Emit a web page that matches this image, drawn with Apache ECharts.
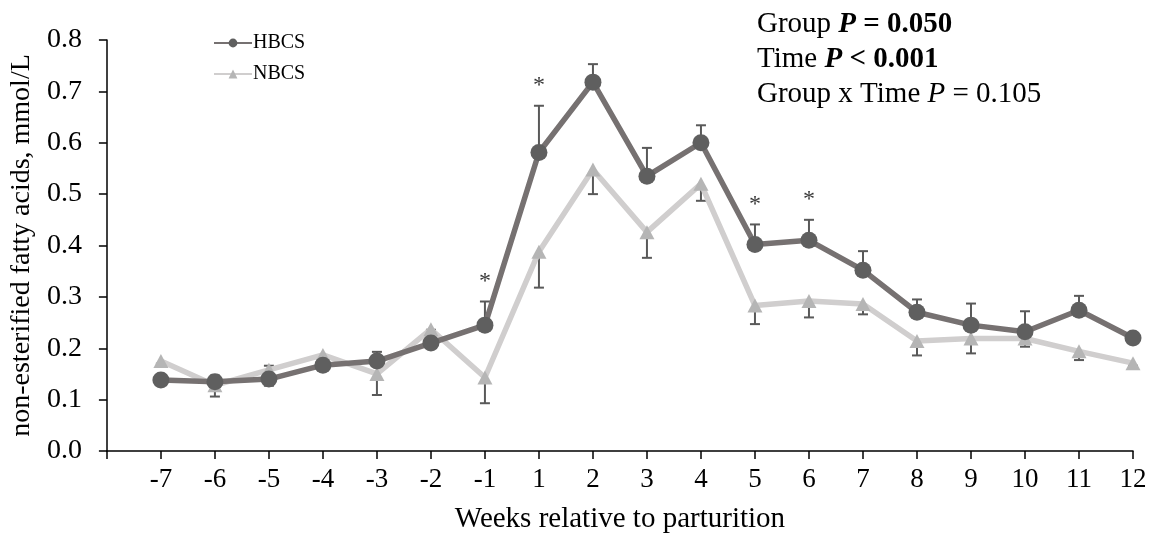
<!DOCTYPE html>
<html>
<head>
<meta charset="utf-8">
<script src="https://cdn.jsdelivr.net/npm/echarts@6/dist/echarts.min.js"></script>
<style>
  html, body { margin: 0; padding: 0; background: #fff; }
  #chart { width: 1150px; height: 543px; }
</style>
</head>
<body>
<div id="chart"></div>
<script>
// Weeks relative to parturition (no week 0)
const weeks = ['-7', '-6', '-5', '-4', '-3', '-2', '-1', '1', '2', '3', '4', '5', '6', '7', '8', '9', '10', '11', '12'];

// NEFA, mmol/L
const hbcs = [0.138, 0.135, 0.140, 0.167, 0.175, 0.210, 0.245, 0.581, 0.718, 0.535, 0.600, 0.402, 0.410, 0.352, 0.270, 0.245, 0.232, 0.274, 0.220];
const nbcs = [0.175, 0.128, 0.158, 0.187, 0.150, 0.237, 0.143, 0.388, 0.548, 0.426, 0.520, 0.283, 0.292, 0.286, 0.214, 0.219, 0.219, 0.194, 0.171];

// Standard errors (HBCS drawn upward, NBCS drawn downward)
const hbcsSe = [0.005, 0.012, 0.026, 0.005, 0.018, 0.026, 0.046, 0.091, 0.035, 0.055, 0.034, 0.039, 0.040, 0.037, 0.025, 0.042, 0.040, 0.028, 0.005];
const nbcsSe = [0.005, 0.022, 0.031, 0.005, 0.041, 0.005, 0.050, 0.070, 0.048, 0.050, 0.033, 0.036, 0.032, 0.020, 0.028, 0.029, 0.016, 0.017, 0.005];

// Weeks with a significant group difference
const sigWeeks = ['-1', '1', '5', '6'];

const yTicks = [0, 0.1, 0.2, 0.3, 0.4, 0.5, 0.6, 0.7, 0.8];

const serif = '"Liberation Serif", "Times New Roman", serif';
const axisColor = '#000';

// leading blank slot so the first week sits one step in from the y axis
const cats = [''].concat(weeks);

function pairs(vals) { return weeks.map((w, i) => [w, vals[i]]); }

function errorSeries(name, vals, se, dir) {
  return {
    type: 'custom',
    name: name + ' SE',
    z: 1,
    silent: true,
    data: weeks.map((w, i) => [w, vals[i], vals[i] + dir * se[i]]),
    renderItem: function (params, api) {
      const a = api.coord([api.value(0), api.value(1)]);
      const b = api.coord([api.value(0), api.value(2)]);
      const hw = 5;
      const st = { stroke: '#595959', lineWidth: 2 };
      return {
        type: 'group',
        children: [
          { type: 'line', shape: { x1: a[0], y1: a[1], x2: b[0], y2: b[1] }, style: st },
          { type: 'line', shape: { x1: b[0] - hw, y1: b[1], x2: b[0] + hw, y2: b[1] }, style: st }
        ]
      };
    }
  };
}

const chart = echarts.init(document.getElementById('chart'), null, { renderer: 'canvas' });

const fs = 29;
const rich = {
  n: { fontFamily: serif, fontSize: fs, lineHeight: 35, fill: '#000' },
  b: { fontFamily: serif, fontSize: fs, lineHeight: 35, fontWeight: 'bold', fill: '#000' },
  bi: { fontFamily: serif, fontSize: fs, lineHeight: 35, fontWeight: 'bold', fontStyle: 'italic', fill: '#000' },
  i: { fontFamily: serif, fontSize: fs, lineHeight: 35, fontStyle: 'italic', fill: '#000' }
};

chart.setOption({
  animation: false,
  backgroundColor: '#fff',
  textStyle: { fontFamily: serif },
  grid: { left: 106, right: 17, top: 40, bottom: 92, containLabel: false },
  legend: {
    orient: 'vertical',
    left: 208,
    top: 28,
    itemWidth: 38,
    itemHeight: 11,
    itemGap: 11,
    textStyle: { fontFamily: serif, fontSize: 20, color: '#000', padding: [0, 0, 0, -4] },
    data: ['HBCS', 'NBCS']
  },
  xAxis: {
    type: 'category',
    data: cats,
    boundaryGap: false,
    name: 'Weeks relative to parturition',
    nameLocation: 'middle',
    nameGap: 54,
    nameTextStyle: { fontFamily: serif, fontSize: 29, color: '#000' },
    axisLine: { lineStyle: { color: axisColor, width: 1.5 } },
    axisTick: { alignWithLabel: true, length: 8, lineStyle: { color: axisColor, width: 1.5 } },
    axisLabel: { fontFamily: serif, fontSize: 27, color: '#000', margin: 15, interval: 0 },
    splitLine: { show: false }
  },
  yAxis: {
    type: 'value',
    min: yTicks[0],
    max: yTicks[yTicks.length - 1],
    interval: 0.1,
    name: 'non-esterified fatty acids, mmol/L',
    nameLocation: 'middle',
    nameGap: 64,
    nameTextStyle: { fontFamily: serif, fontSize: 28, color: '#000' },
    axisLine: { show: true, lineStyle: { color: axisColor, width: 1.5 } },
    axisTick: { show: true, length: 8, lineStyle: { color: axisColor, width: 1.5 } },
    axisLabel: { fontFamily: serif, fontSize: 28, color: '#000', margin: 25, formatter: v => v.toFixed(1) },
    splitLine: { show: false }
  },
  series: [
    errorSeries('HBCS', hbcs, hbcsSe, 1),
    errorSeries('NBCS', nbcs, nbcsSe, -1),
    {
      name: 'NBCS',
      type: 'line',
      z: 2,
      data: pairs(nbcs),
      symbol: 'triangle',
      symbolSize: [15, 14],
      lineStyle: { color: '#d0cece', width: 5.5 },
      itemStyle: { color: '#b5b5b5', borderWidth: 0 }
    },
    {
      name: 'HBCS',
      type: 'line',
      z: 3,
      data: pairs(hbcs),
      symbol: 'circle',
      symbolSize: 17,
      lineStyle: { color: '#767171', width: 5.5 },
      itemStyle: { color: '#5f5f5f', borderWidth: 0 }
    },
    {
      name: 'sig',
      type: 'scatter',
      z: 4,
      silent: true,
      symbolSize: 0,
      data: sigWeeks.map(w => {
        const i = weeks.indexOf(w);
        return [w, hbcs[i] + hbcsSe[i] + 0.045];
      }),
      label: {
        show: true,
        position: 'inside',
        formatter: '*',
        fontFamily: serif,
        fontSize: 24,
        color: '#000',
        offset: [0, 3]
      }
    }
  ],
  graphic: [
    {
      type: 'text',
      left: 757,
      top: 10,
      style: {
        text: '{n|Group }{bi|P}{b| = 0.050}\n{n|Time }{bi|P}{b| < 0.001}\n{n|Group x Time }{i|P}{n| = 0.105}',
        fill: '#000',
        rich: rich
      }
    }
  ]
});
</script>
</body>
</html>
